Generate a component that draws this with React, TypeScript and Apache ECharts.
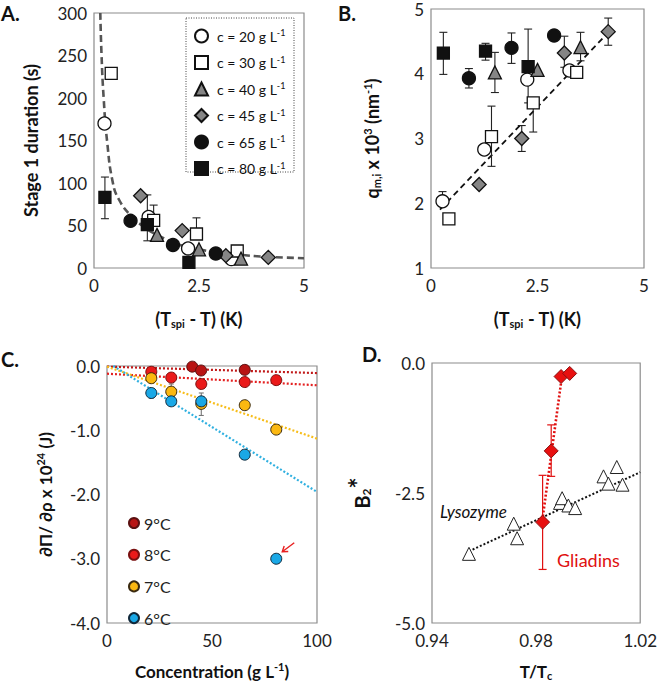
import React, { useEffect, useRef } from "react";
import * as echarts from "echarts";

// ---------- Panel A: Stage 1 duration (s) vs (Tspi - T) ----------
const aC20 = [[0.25, 170], [1.3, 60], [2.24, 23], [3.27, 10.5]];
const aC30 = [[0.41, 229], [1.42, 56], [2.44, 40], [3.41, 20]];
const aC40 = [[1.5, 39], [2.5, 22], [3.5, 11]];
const aC45 = [[1.11, 85], [2.1, 44], [3.14, 14.5], [4.15, 12.5]];
const aC65 = [[0.87, 55.5], [1.88, 27], [2.9, 17]];
const aC80 = [[0.26, 83], [1.27, 51], [2.26, 6.6]];
const aErr = [[0.26, 58, 107], [1.27, 32, 86], [1.42, 56, 74], [2.44, 40, 59]];
const aFit = [[0.15, 300], [0.18, 250], [0.23, 200], [0.31, 150], [0.45, 100], [0.6, 80], [0.87, 62], [1.2, 48], [1.5, 39], [2, 28], [2.5, 22], [3, 18], [3.5, 15.5], [4, 13.5], [5, 11.5]];

// ---------- Panel B: q_m,i x 10^3 vs (Tspi - T) ----------
const bC20 = [[0.27, 2.03], [1.25, 2.83], [2.26, 3.91], [3.25, 4.05]];
const bC30 = [[0.42, 1.76], [1.42, 3.03], [2.4, 3.55], [3.42, 4.02]];
const bC40 = [[1.5, 4.02], [2.5, 4.06], [3.51, 4.41]];
const bC45 = [[1.13, 2.29], [2.13, 3.0], [3.13, 4.32], [4.16, 4.65]];
const bC65 = [[0.89, 3.93], [1.89, 4.4], [2.89, 4.59]];
const bC80 = [[0.29, 4.32], [1.28, 4.35], [2.28, 4.11]];
const bErr = [[0.27, 2.03, 2.18], [1.42, 2.57, 3.5], [2.4, 3.1, 3.55], [1.5, 3.71, 4.33], [3.51, 4.2, 4.64], [2.13, 2.8, 3.2], [3.13, 4.1, 4.58], [4.16, 4.44, 4.86], [0.89, 3.78, 4.08], [1.89, 4.16, 4.63], [0.29, 3.99, 4.64], [1.28, 4.21, 4.47], [2.28, 3.55, 4.69]];
const bFit = [[0.21, 1.9], [4.22, 4.68]];

// ---------- Panel C: dPi/drho x 10^24 vs concentration ----------
const c9 = [[40.6, -0.01], [44.8, -0.07], [65.6, -0.06]];
const c8 = [[21.1, -0.09], [30.6, -0.18], [44.9, -0.28], [65.6, -0.25], [80.6, -0.22]];
const c7 = [[21.1, -0.19], [30.6, -0.4], [44.9, -0.59], [65.6, -0.61], [80.6, -0.99]];
const c6 = [[21.1, -0.42], [30.6, -0.55], [44.9, -0.55], [65.6, -1.38], [80.6, -3.0]];
const cErr = [[21.1, -0.5, -0.42], [30.6, -0.4, -0.28], [44.9, -0.77, -0.42]];
const c9Fit = [[0, -0.01], [100, -0.11]];
const c8Fit = [[0, -0.12], [100, -0.3]];
const c7Fit = [[0, -0.01], [100, -1.13]];
const c6Fit = [[3, 0], [100, -1.96]];
const cArrowPoint = [80.6, -3.0];

// ---------- Panel D: B2* vs T/Tc ----------
const dLyso = [[0.9542, -3.67], [0.9714, -3.09], [0.9727, -3.37], [0.9892, -2.69], [0.99, -2.6], [0.9924, -2.74], [0.995, -2.79], [1.0059, -2.18], [1.0078, -2.32], [1.011, -2.0], [1.0132, -2.34]];
const dGlia = [[0.9825, -3.06], [0.9858, -1.69], [0.9896, -0.26], [0.9929, -0.2]];
const dGliaErr = [[0.9825, -3.97, -2.16], [0.9858, -2.18, -1.19]];
const dLysoFit = [[0.9542, -3.62], [1.02, -2.1]];
const dGliaFit = [[0.9826, -2.95], [0.9898, -0.3]];

const FONT = "Lato";
const GRAYBOX = "#8c8c8c";

function mkRich(size: number) {
  const bold = { fontSize: size, fontWeight: "bold" as const, fontFamily: FONT, color: "#111" };
  const small = Math.round(size * 0.62);
  return {
    b: { ...bold },
    s: { ...bold, fontSize: small, padding: [9, 0, 0, 0] },
    p: { ...bold, fontSize: small, padding: [0, 0, 9, 0] },
    st: { ...bold, fontSize: size + 6, padding: [0, 0, 7, 0] },
  };
}
const richAB = mkRich(18);
const richCD = mkRich(17);
const richD = mkRich(20);
const legRich = {
  n: { fontSize: 14, fontFamily: FONT, color: "#111" },
  p: { fontSize: 9, fontFamily: FONT, color: "#111", padding: [0, 0, 7, 0] },
};

function errSeries(data: number[][], xi: number, color: string, cap: number, lw = 1.1) {
  return {
    type: "custom",
    xAxisIndex: xi,
    yAxisIndex: xi,
    z: 2,
    silent: true,
    data,
    encode: { x: 0, y: [1, 2] },
    renderItem: (_p: any, api: any) => {
      const x = api.value(0);
      const p1 = api.coord([x, api.value(1)]);
      const p2 = api.coord([x, api.value(2)]);
      const style = { stroke: color, lineWidth: lw, fill: "none" };
      return {
        type: "group",
        children: [
          { type: "line", shape: { x1: p1[0], y1: p1[1], x2: p2[0], y2: p2[1] }, style },
          { type: "line", shape: { x1: p1[0] - cap, y1: p1[1], x2: p1[0] + cap, y2: p1[1] }, style },
          { type: "line", shape: { x1: p2[0] - cap, y1: p2[1], x2: p2[0] + cap, y2: p2[1] }, style },
        ],
      };
    },
  };
}

function scat(name: string, data: number[][], xi: number, symbol: string, size: number, fill: string, border = "#111", bw = 1.3) {
  return {
    type: "scatter",
    name,
    data,
    xAxisIndex: xi,
    yAxisIndex: xi,
    symbol,
    symbolSize: size,
    z: 3,
    itemStyle: { color: fill, borderColor: border, borderWidth: bw, opacity: 1 },
  };
}

function line(data: number[][], xi: number, color: string, type: any, width: number, smooth = false) {
  return {
    type: "line",
    data,
    xAxisIndex: xi,
    yAxisIndex: xi,
    showSymbol: false,
    symbol: "none",
    smooth,
    silent: true,
    z: 1,
    lineStyle: { color, type, width },
  };
}

function xAxis(gi: number, min: number, max: number, interval: number, name: string, gap: number, rich: any, fs: number, fmt?: any) {
  return {
    type: "value",
    gridIndex: gi,
    min,
    max,
    interval,
    name,
    nameLocation: "middle",
    nameGap: gap,
    nameTextStyle: { rich },
    axisLine: { show: false },
    axisTick: { show: false },
    splitLine: { show: false },
    axisLabel: { fontSize: fs, fontFamily: FONT, color: "#222", margin: 9, formatter: fmt, hideOverlap: false },
  };
}
function yAxis(gi: number, min: number, max: number, interval: number, name: string, gap: number, rich: any, fs: number, fmt?: any) {
  return {
    type: "value",
    gridIndex: gi,
    min,
    max,
    interval,
    name,
    nameLocation: "middle",
    nameGap: gap,
    nameRotate: 90,
    nameTextStyle: { rich },
    axisLine: { show: false },
    axisTick: { show: false },
    splitLine: { show: false },
    axisLabel: { fontSize: fs, fontFamily: FONT, color: "#222", margin: 7, formatter: fmt },
  };
}

const gridStyle = { show: true, borderColor: GRAYBOX, borderWidth: 1.2, backgroundColor: "transparent", containLabel: false };

export default function App() {
  const ref = useRef<HTMLDivElement>(null);
  useEffect(() => {
    if (!ref.current) return;
    const chart = echarts.init(ref.current, null, { renderer: "svg" });
    const GRAY = "#858585";
    const fmt1 = (v: number) => v.toFixed(1);
    const option: any = {
      animation: false,
      backgroundColor: "#fff",
      textStyle: { fontFamily: FONT },
      grid: [
        { ...gridStyle, left: 94, top: 13, width: 210, height: 255 },
        { ...gridStyle, left: 431, top: 9, width: 213, height: 259 },
        { ...gridStyle, left: 107, top: 366, width: 210, height: 257 },
        { ...gridStyle, left: 432, top: 363, width: 212, height: 260 },
      ],
      xAxis: [
        xAxis(0, 0, 5, 2.5, "{b|(T}{s|spi}{b| - T) (K)}", 41, richAB, 17),
        xAxis(1, 0, 5, 2.5, "{b|(T}{s|spi}{b| - T) (K)}", 41, richAB, 17),
        xAxis(2, 0, 100, 50, "{b|Concentration (g L}{p|-1}{b|)}", 38, richCD, 17),
        xAxis(3, 0.94, 1.02, 0.02, "{b|T/T}{s|c}", 38, richCD, 17, (v: number) => {
          const k = Math.round(v * 100);
          return k % 4 === 2 ? (k / 100).toFixed(2) : "";
        }),
      ],
      yAxis: [
        yAxis(0, 0, 300, 50, "{b|Stage 1 duration (s)}", 54, richAB, 17),
        yAxis(1, 1, 5, 1, "{b|q}{s|m,i}{b| x 10}{p|3}{b| (nm}{p|-1}{b|)}", 49, richAB, 17),
        yAxis(2, -4, 0, 1, "{b|∂Π/ ∂ρ x 10}{p|24}{b| (J)}", 52, richCD, 17, fmt1),
        yAxis(3, -5, 0, 2.5, "{b|B}{s|2}{st|*}", 54, richD, 17, fmt1),
      ],
      legend: [
        {
          left: 194,
          top: 28,
          orient: "vertical",
          itemWidth: 13,
          itemHeight: 13,
          itemGap: 11,
          padding: 0,
          z: 5,
          selectedMode: false,
          data: ["c20", "c30", "c40", "c45", "c65", "c80"],
          formatter: (n: string) => `{n|c = ${n.slice(1)} g L}{p|-1}`,
          textStyle: { rich: legRich, padding: [0, 0, 0, 4] },
        },
        {
          left: 128,
          top: 515,
          orient: "vertical",
          itemWidth: 10,
          itemHeight: 10,
          itemGap: 15.7,
          padding: 0,
          selectedMode: false,
          data: ["9°C", "8°C", "7°C", "6°C"],
          textStyle: { fontSize: 16, fontFamily: FONT, color: "#222" },
        },
      ],
      graphic: [
        { type: "rect", z: 0, shape: { x: 186, y: 18, width: 108, height: 154 }, style: { fill: "#fff", stroke: "#444", lineWidth: 1, lineDash: [1, 1.5] } },
        { type: "text", x: 1, y: 3, style: { text: "A.", font: `bold 20px '${FONT}'`, fill: "#111" } },
        { type: "text", x: 338, y: 3, style: { text: "B.", font: `bold 20px '${FONT}'`, fill: "#111" } },
        { type: "text", x: 1, y: 349, style: { text: "C.", font: `bold 20px '${FONT}'`, fill: "#111" } },
        { type: "text", x: 362, y: 344, style: { text: "D.", font: `bold 20px '${FONT}'`, fill: "#111" } },
        { type: "text", x: 440, y: 503, style: { text: "Lysozyme", font: `italic 17px '${FONT}'`, fill: "#111" } },
        { type: "text", x: 557, y: 551, style: { text: "Gliadins", font: `18px '${FONT}'`, fill: "#e01010" } },
      ],
      series: [
        // A
        line(aFit, 0, "#555", [7, 4], 2.6, true),
        errSeries(aErr, 0, "#222", 4),
        scat("c20", aC20, 0, "circle", 13, "#fff"),
        scat("c30", aC30, 0, "rect", 12, "#fff"),
        scat("c40", aC40, 0, "triangle", 13, GRAY),
        scat("c45", aC45, 0, "diamond", 14, GRAY),
        scat("c65", aC65, 0, "circle", 13, "#111"),
        scat("c80", aC80, 0, "rect", 12, "#111"),
        // B
        line(bFit, 1, "#111", [6, 4], 1.8),
        errSeries(bErr, 1, "#222", 4),
        scat("c20", bC20, 1, "circle", 13, "#fff"),
        scat("c30", bC30, 1, "rect", 12, "#fff"),
        scat("c40", bC40, 1, "triangle", 13, GRAY),
        scat("c45", bC45, 1, "diamond", 14, GRAY),
        scat("c65", bC65, 1, "circle", 13, "#111"),
        scat("c80", bC80, 1, "rect", 12, "#111"),
        // C
        line(c9Fit, 2, "#c01818", [2, 2], 2.2),
        line(c8Fit, 2, "#e42020", [2, 2], 2.2),
        line(c7Fit, 2, "#f7bd1a", [2, 2], 2.2),
        line(c6Fit, 2, "#30b0e0", [2, 2], 2.2),
        errSeries(cErr, 2, "#777", 2.5),
        scat("9°C", c9, 2, "circle", 11, "#b81414", "#5a1010", 1),
        scat("8°C", c8, 2, "circle", 11, "#ea1a1a", "#7a1010", 1),
        scat("7°C", c7, 2, "circle", 11, "#fbb811", "#3a2a10", 1),
        scat("6°C", c6, 2, "circle", 11, "#1aa8e6", "#10283a", 1),
        // D
        line(dLysoFit, 3, "#111", [2, 2], 2),
        line(dGliaFit, 3, "#e01010", [2, 2], 2.6),
        errSeries(dGliaErr, 3, "#e01010", 4, 1.2),
        scat("Lysozyme", dLyso, 3, "triangle", 13, "#fff", "#222", 1),
        scat("Gliadins", dGlia, 3, "diamond", 14, "#e81010", "#8a1010", 1),
      ],
    };
    chart.setOption(option);

    // red arrow in panel C pointing at the outlier point
    const p = chart.convertToPixel({ xAxisIndex: 2, yAxisIndex: 2 } as any, cArrowPoint) as number[];
    if (p) {
      const tail = [p[0] + 18, p[1] - 16];
      const tip = [p[0] + 6, p[1] - 7];
      const dx = tail[0] - tip[0], dy = tail[1] - tip[1];
      const L = Math.hypot(dx, dy);
      const ux = dx / L, uy = dy / L;
      const rot = (a: number) => [tip[0] + 6 * (ux * Math.cos(a) - uy * Math.sin(a)), tip[1] + 6 * (ux * Math.sin(a) + uy * Math.cos(a))];
      const g = option.graphic.concat([
        { type: "line", shape: { x1: tail[0], y1: tail[1], x2: tip[0], y2: tip[1] }, style: { stroke: "#e82020", lineWidth: 1.4 } },
        { type: "polyline", shape: { points: [rot(0.6), tip, rot(-0.6)] }, style: { stroke: "#e82020", lineWidth: 1.4, fill: "none" } },
      ]);
      chart.setOption({ graphic: g });
    }
    return () => chart.dispose();
  }, []);
  return <div ref={ref} style={{ position: "fixed", left: 0, top: 0, width: 660, height: 685, background: "#fff" }} />;
}
